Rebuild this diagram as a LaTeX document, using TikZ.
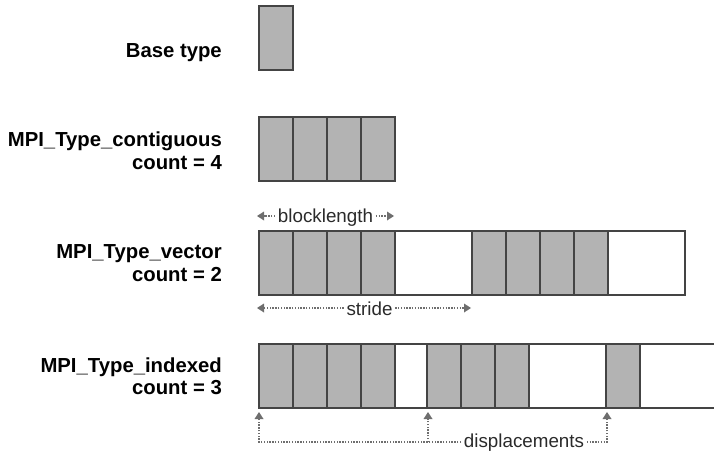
\documentclass[tikz,border=0pt]{standalone}
\usepackage{fontspec}
\setmainfont{Liberation Sans}
\usetikzlibrary{arrows.meta}
\definecolor{cellfill}{HTML}{B3B3B3}
\definecolor{celledge}{HTML}{444444}
\definecolor{annotcol}{HTML}{2A2A2A}
\definecolor{dimcol}{HTML}{6E6E6E}
\tikzset{
  cell/.style={draw=celledge, line width=1.9pt, fill=cellfill, inner sep=0pt, outer sep=0pt,
    anchor=north west, minimum height=64pt, minimum width=34pt},
  gap/.style={cell, fill=white},
  lbl/.style={font=\fontsize{20.3}{23}\selectfont\bfseries, text=black, inner sep=0pt, anchor=base east},
  annot/.style={font=\fontsize{18.8}{21}\selectfont, text=annotcol, inner sep=2.5pt, anchor=base},
  dimarrow/.style={draw=dimcol, line width=1.5pt, dash pattern=on 1.5pt off 1.3pt,
    -{Triangle[length=7pt,width=9pt,fill=dimcol,line width=0pt]}}
}
\begin{document}
\begin{tikzpicture}[x=1pt,y=1pt]
\useasboundingbox (0,0) rectangle (714,-452);
\clip (0,0) rectangle (714,-452);
% Base type
\node[cell] (b1) at (259,-6) {};
\node[lbl] (lb) at (222,-58) {Base type};
% Contiguous
\node[cell] (c1) at (259,-117) {};
\node[cell] (c2) at (293,-117) {};
\node[cell] (c3) at (327,-117) {};
\node[cell] (c4) at (361,-117) {};
\node[lbl] (lc1) at (222,-146) {MPI\_Type\_contiguous};
\node[lbl] (lc2) at (222,-169) {count = 4};
% Vector
\node[cell] (v1) at (259,-231) {};
\node[cell] (v2) at (293,-231) {};
\node[cell] (v3) at (327,-231) {};
\node[cell] (v4) at (361,-231) {};
\node[gap, minimum width=77pt] (vg1) at (395,-231) {};
\node[cell] (v5) at (472,-231) {};
\node[cell] (v6) at (506,-231) {};
\node[cell] (v7) at (540,-231) {};
\node[cell] (v8) at (574,-231) {};
\node[gap, minimum width=77pt] (vg2) at (608,-231) {};
\node[lbl] (lv1) at (222,-258) {MPI\_Type\_vector};
\node[lbl] (lv2) at (222,-281) {count = 2};
% Indexed
\node[cell] (i1) at (259,-344) {};
\node[cell] (i2) at (293,-344) {};
\node[cell] (i3) at (327,-344) {};
\node[cell] (i4) at (361,-344) {};
\node[gap, minimum width=32pt] (ig1) at (395,-344) {};
\node[cell] (i5) at (427,-344) {};
\node[cell] (i6) at (461,-344) {};
\node[cell] (i7) at (495,-344) {};
\node[gap, minimum width=77pt] (ig2) at (529,-344) {};
\node[cell] (i8) at (606,-344) {};
\node[gap, minimum width=90pt] (ig3) at (640,-344) {};
\node[lbl] (li1) at (222,-372) {MPI\_Type\_indexed};
\node[lbl] (li2) at (222,-394) {count = 3};
% blocklength
\coordinate (blL) at (257,-216);
\coordinate (blR) at (394,-216);
\node[annot] (bl) at (325.5,-222) {blocklength};
\draw[dimarrow] (bl.west |- blL) -- (blL);
\draw[dimarrow] (bl.east |- blR) -- (blR);
% stride
\coordinate (stL) at (257,-308);
\coordinate (stR) at (471,-308);
\node[annot] (st) at (369.5,-315) {stride};
\draw[dimarrow] (st.west |- stL) -- (stL);
\draw[dimarrow] (st.east |- stR) -- (stR);
% displacements
\coordinate (d1) at (259,-412);
\coordinate (d2) at (428,-412);
\coordinate (d3) at (607,-412);
\coordinate (dl) at (0,-442);
\node[annot] (dp) at (524,-447) {displacements};
\draw[dimarrow] (dp.west |- dl) -| (d1);
\draw[dimarrow] (d2 |- dl) -- (d2);
\draw[dimarrow] (dp.east |- dl) -| (d3);
\end{tikzpicture}
\end{document}
